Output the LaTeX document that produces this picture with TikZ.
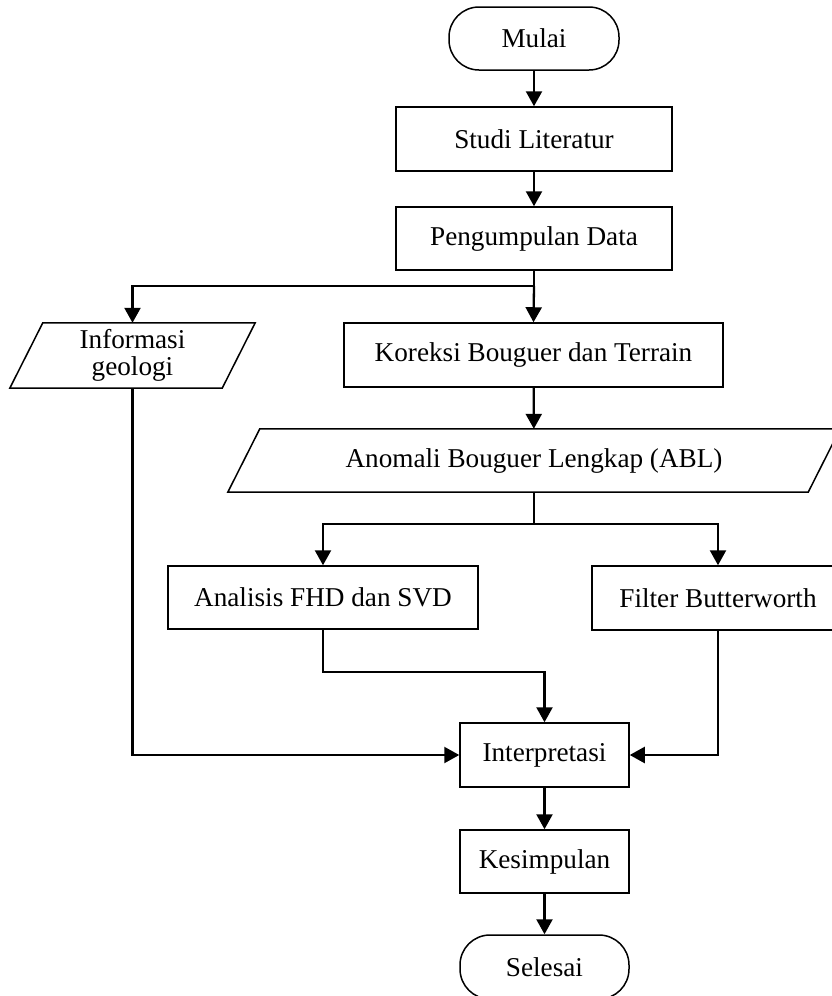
\documentclass[tikz,border=0pt]{standalone}
\usepackage{fontspec}
\setmainfont{Liberation Serif}
\usetikzlibrary{arrows.meta,calc}
\begin{document}
\begin{tikzpicture}[x=1pt,y=-1pt,
  every node/.style={font=\fontsize{27.2}{27}\selectfont, inner sep=0pt, align=center},
  procbox/.style={draw, line width=1.5pt, rectangle},
  termbox/.style={draw, line width=1.5pt, rectangle, rounded corners=30pt},
  iobox/.style={rectangle},
  conn/.style={line width=2.3pt},
  arr/.style={conn, -{Triangle[length=15pt,width=16pt]}}
]
\useasboundingbox (0,0) rectangle (832,996);
\clip (0,0) rectangle (832,996);

% nodes
\node[termbox, minimum width=170pt, minimum height=63pt] (mulai) at (534,38.5) {Mulai};
\node[procbox, minimum width=276pt, minimum height=64pt] (studi) at (534,139) {Studi Literatur};
\node[procbox, minimum width=276pt, minimum height=63pt] (kumpul) at (534,238.5) {Pengumpulan Data};
\node[iobox, minimum width=212pt, minimum height=65pt] (info) at (132.5,355.5) {Informasi\\geologi};
\node[procbox, minimum width=379pt, minimum height=64pt] (koreksi) at (533.5,355) {Koreksi Bouguer dan Terrain};
\node[iobox, minimum width=580pt, minimum height=63pt] (abl) at (534,460.5) {Anomali Bouguer Lengkap (ABL)};
\node[procbox, minimum width=310pt, minimum height=63pt] (fhd) at (323,597.5) {Analisis FHD dan SVD};
\node[procbox, minimum width=252pt, minimum height=64pt] (filter) at (718,598) {Filter Butterworth};
\node[procbox, minimum width=169pt, minimum height=64pt] (interp) at (544.5,755) {Interpretasi};
\node[procbox, minimum width=169pt, minimum height=63pt] (simpul) at (544.5,861.5) {Kesimpulan};
\node[termbox, minimum width=169pt, minimum height=64pt] (selesai) at (544.5,967) {Selesai};

% parallelogram outlines
\draw[line width=1.5pt] ($(info.north west)+(16.5,0)$) -- ($(info.north east)+(16.5,0)$)
   -- ($(info.south east)+(-16.5,0)$) -- ($(info.south west)+(-16.5,0)$) -- cycle;
\draw[line width=1.5pt] ($(abl.north west)+(16,0)$) -- ($(abl.north east)+(16,0)$)
   -- ($(abl.south east)+(-16,0)$) -- ($(abl.south west)+(-16,0)$) -- cycle;

% junction coordinates
\coordinate (b1) at (534,286);
\coordinate (b2) at (534,524);
\coordinate (j1) at (544.5,672);

% connectors
\draw[arr] (mulai) -- (studi);
\draw[arr] (studi) -- (kumpul);
\draw[conn] (kumpul.south) -- (b1);
\draw[arr] (b1) -| (info.north);
\draw[arr] (b1) -- (koreksi.north);
\draw[arr] (koreksi) -- (abl);
\draw[conn] (abl.south) -- (b2);
\draw[arr] (b2) -| (fhd.north);
\draw[arr] (b2) -| (filter.north);
\draw[arr] (fhd.south) |- (j1) -- (interp.north);
\draw[arr] (info.south) |- (interp.west);
\draw[arr] (filter.south) |- (interp.east);
\draw[arr] (interp) -- (simpul);
\draw[arr] (simpul) -- (selesai);
\end{tikzpicture}
\end{document}
